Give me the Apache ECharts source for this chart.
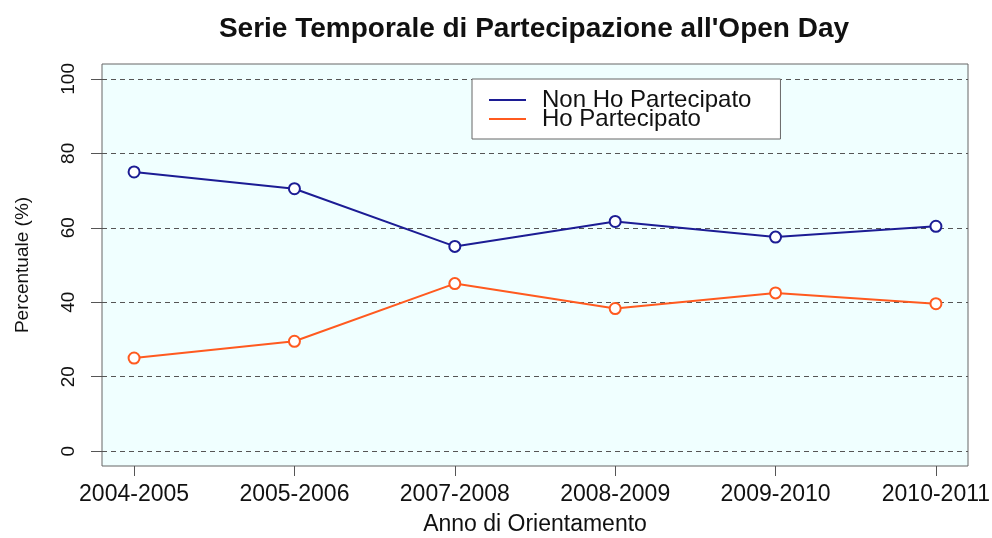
<!DOCTYPE html>
<html>
<head>
<meta charset="utf-8">
<script src="https://cdn.jsdelivr.net/npm/echarts@6/dist/echarts.min.js"></script>
<style>
  html, body { margin: 0; padding: 0; background: #fff; }
  #chart { width: 992px; height: 538px; }
</style>
</head>
<body>
<div id="chart"></div>
<script>
var anni = ['2004-2005', '2005-2006', '2007-2008', '2008-2009', '2009-2010', '2010-2011'];
var nonPartecipato = [75.0, 70.5, 55.0, 61.7, 57.5, 60.4];
var partecipato = [25.0, 29.5, 45.0, 38.3, 42.5, 39.6];
var xPos = [1, 2, 3, 4, 5, 6];
var yTicks = [0, 20, 40, 60, 80, 100];

function pairs(vals) {
    return vals.map(function (v, i) { return [xPos[i], v]; });
}

var font = 'Liberation Sans, Arial, Helvetica, sans-serif';
var chart = echarts.init(document.getElementById('chart'));

var option = {
    animation: false,
    backgroundColor: '#fff',
    title: {
        text: "Serie Temporale di Partecipazione all'Open Day",
        left: 534,
        top: 15,
        padding: 0,
        textAlign: 'center',
        textStyle: { fontFamily: font, fontSize: 28, fontWeight: 'bold', color: '#111' }
    },
    legend: {
        orient: 'vertical',
        left: 472,
        top: 79,
        padding: [9, 29, 8, 17],
        itemGap: -5,
        itemWidth: 37,
        itemHeight: 2,
        icon: 'rect',
        backgroundColor: '#fff',
        borderColor: '#666',
        borderWidth: 1,
        data: ['Non Ho Partecipato', 'Ho Partecipato'],
        textStyle: { fontFamily: font, fontSize: 24, lineHeight: 19, color: '#111', padding: [0, 0, 0, 11] }
    },
    grid: {
        left: 102,
        right: 24,
        top: 64,
        bottom: 72,
        outerBoundsMode: 'none',
        show: true,
        backgroundColor: '#F0FFFF',
        borderColor: '#666',
        borderWidth: 1
    },
    xAxis: {
        type: 'value',
        min: 0.8,
        max: 6.2,
        name: 'Anno di Orientamento',
        nameLocation: 'middle',
        nameGap: 47,
        nameMoveOverlap: false,
        nameTextStyle: { fontFamily: font, fontSize: 23, color: '#111' },
        axisLine: { show: false, onZero: false },
        axisTick: { show: true, customValues: xPos, length: 10, lineStyle: { color: '#555' } },
        axisLabel: {
            customValues: xPos,
            margin: 17,
            fontFamily: font,
            fontSize: 23,
            color: '#111',
            formatter: function (v) { return anni[Math.round(v) - 1]; }
        },
        splitLine: { show: false }
    },
    yAxis: {
        type: 'value',
        min: -4,
        max: 104,
        name: 'Percentuale (%)',
        nameLocation: 'middle',
        nameGap: 70,
        nameTextStyle: { fontFamily: font, fontSize: 19, color: '#111' },
        axisLine: { show: false, onZero: false },
        axisTick: { show: true, customValues: yTicks, length: 11, lineStyle: { color: '#555' } },
        axisLabel: {
            customValues: yTicks,
            rotate: 90,
            margin: 24,
            fontFamily: font,
            fontSize: 19,
            color: '#111'
        },
        splitLine: { show: true, lineStyle: { color: '#555', type: [5, 4], width: 1 } }
    },
    series: [{
        name: 'Non Ho Partecipato',
        type: 'line',
        data: pairs(nonPartecipato),
        symbol: 'emptyCircle',
        symbolSize: 11,
        color: '#1c1c94',
        lineStyle: { width: 2 },
        itemStyle: { borderWidth: 2 }
    }, {
        name: 'Ho Partecipato',
        type: 'line',
        data: pairs(partecipato),
        symbol: 'emptyCircle',
        symbolSize: 11,
        color: '#ff5a1f',
        lineStyle: { width: 2 },
        itemStyle: { borderWidth: 2 }
    }]
};
chart.setOption(option);
</script>
</body>
</html>
